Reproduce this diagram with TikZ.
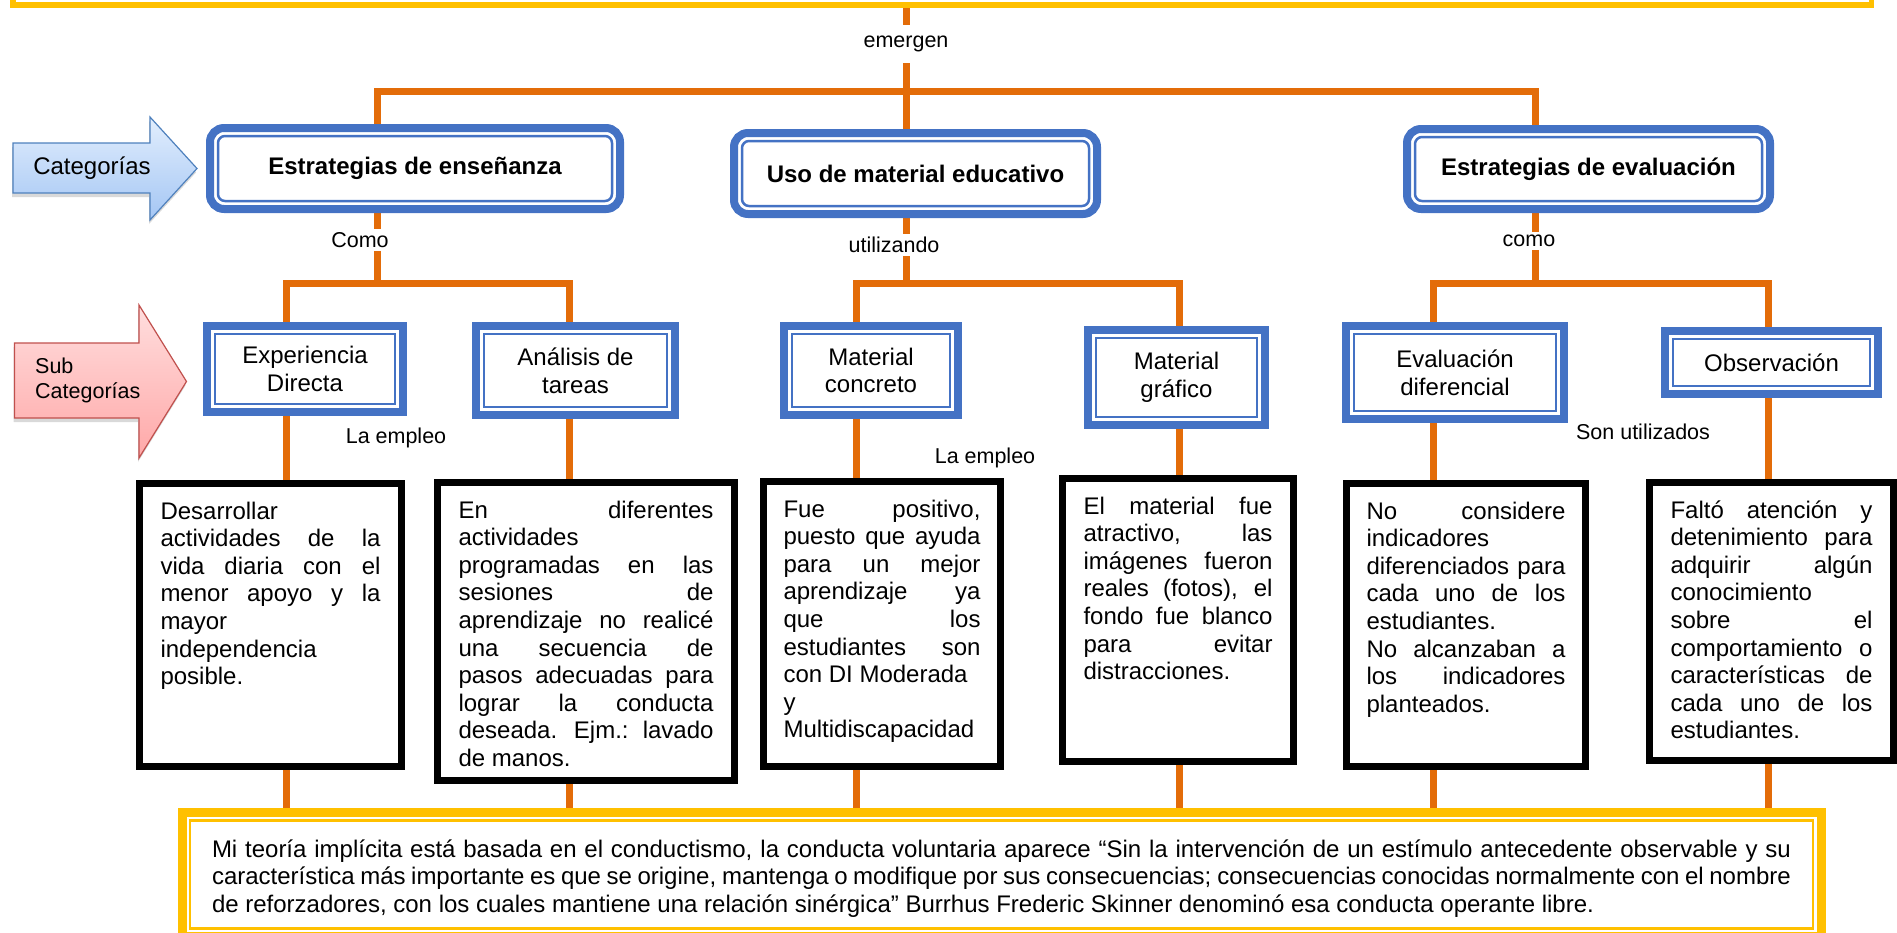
\documentclass[tikz,border=0pt]{standalone}
\usepackage{fontspec}
\setmainfont{Liberation Sans}
\usetikzlibrary{positioning,backgrounds,shadows}

\definecolor{azul}{HTML}{4472C4}
\definecolor{naranja}{HTML}{E36C09}
\definecolor{amarillo}{HTML}{FFC000}
\definecolor{flechaazul}{HTML}{4F81BD}
\definecolor{flecharoja}{HTML}{C0504D}
\definecolor{celeste1}{HTML}{E2EEFD}
\definecolor{celeste2}{HTML}{A4C6F4}
\definecolor{rosa1}{HTML}{FFDEDE}
\definecolor{rosa2}{HTML}{FFA8A8}

\setlength{\parindent}{0pt}
\tolerance=10000
\hbadness=10000
\hyphenpenalty=10000
\exhyphenpenalty=10000

\newcommand{\cuerpo}{\fontsize{24}{27.6}\selectfont}
\newcommand{\etiq}{\fontsize{21.5}{25}\selectfont}

\tikzset{sangria/.store in=\sangria, sangria=8pt}

\begin{document}
\begin{tikzpicture}[x=1pt, y=-1pt,
    conn/.style={draw=naranja, line width=7pt},
    cat/.style={rectangle, draw=azul, line width=8pt, rounded corners=14pt, fill=white, inner sep=0pt,
        align=center, font=\bfseries\cuerpo,
        path picture={\draw[azul, line width=2.5pt, rounded corners=7pt]
            ([shift={(\sangria,\sangria)}]path picture bounding box.south west) rectangle
            ([shift={(-\sangria,-\sangria)}]path picture bounding box.north east);}},
    sub/.style={rectangle, draw=azul, line width=8pt, fill=white, inner sep=0pt, align=center, font=\cuerpo,
        path picture={\draw[azul, line width=2.5pt]
            ([shift={(\sangria,\sangria)}]path picture bounding box.south west) rectangle
            ([shift={(-\sangria,-\sangria)}]path picture bounding box.north east);}},
    marco/.style={rectangle, draw=amarillo, line width=9pt, fill=white, inner sep=0pt,
        path picture={\draw[amarillo, line width=2.5pt]
            ([shift={(\sangria,\sangria)}]path picture bounding box.south west) rectangle
            ([shift={(-\sangria,-\sangria)}]path picture bounding box.north east);}},
    texto/.style={rectangle, draw=black, line width=7pt, fill=white, anchor=north, inner xsep=21pt,
        inner ysep=0pt, text height=36pt, align=justify, font=\cuerpo},
    etiqueta/.style={inner sep=3pt, font=\etiq},
    flecha/.style={line width=1.2pt, drop shadow={shadow xshift=-1pt, shadow yshift=-4pt, opacity=.3}}
]
    \useasboundingbox (0,0) rectangle (1897,932);

    % Marco superior (solo se ve su borde inferior)
    \node[marco, line width=5.5pt, sangria=6.35pt, minimum width=1858.5pt, minimum height=120pt, anchor=south] (marcosup) at (942,7.85) {};

    % Flechas de la izquierda
    \path[flecha, draw=flechaazul, top color=celeste1, bottom color=celeste2]
        (13,143) -- (150,143) -- (150,117) -- (197,168.5) -- (150,220) -- (150,193) -- (13,193) -- cycle;
    \node[font=\cuerpo] (categorias) at (92,168) {Categorías};
    \path[flecha, draw=flecharoja, top color=rosa1, bottom color=rosa2]
        (14.5,343) -- (139,343) -- (139,305) -- (186.5,381.5) -- (139,458) -- (139,418) -- (14.5,418) -- cycle;
    \node[font=\etiq, align=left, anchor=west, inner sep=0pt] (subcategorias) at (35,380) {Sub\\Categorías};

    % Categorías
    \node[cat, minimum width=410pt, minimum height=81pt] (cat1) at (415,168.5) {Estrategias de enseñanza};
    \node[cat, minimum width=363pt, minimum height=81pt] (cat2) at (915.5,173.5) {Uso de material educativo};
    \node[cat, minimum width=363pt, minimum height=80pt] (cat3) at (1588.5,169) {Estrategias de evaluación};

    % Subcategorías
    \node[sub, minimum width=196pt, minimum height=86pt] (sub11) at (305,369) {Experiencia\\Directa};
    \node[sub, minimum width=199pt, minimum height=89pt] (sub12) at (575.5,370.5) {Análisis de\\tareas};
    \node[sub, minimum width=174pt, minimum height=89pt] (sub21) at (871,370.5) {Material\\concreto};
    \node[sub, minimum width=177pt, minimum height=95pt] (sub22) at (1176.5,377.5) {Material\\gráfico};
    \node[sub, minimum width=218pt, minimum height=93pt] (sub31) at (1455,372.5) {Evaluación\\diferencial};
    \node[sub, minimum width=213pt, minimum height=63pt] (sub32) at (1771.5,362.5) {Observación};

    % Etiquetas de los conectores
    \node[etiqueta, inner ysep=11pt] (emergen) at (906,44) {emergen};
    \node[etiqueta] (como1) at (360,240) {Como};
    \node[etiqueta] (utilizando) at (894,245) {utilizando};
    \node[etiqueta] (como3) at (1529,241) {como};
    \node[etiqueta] (empleo1) at (396,438) {La empleo};
    \node[etiqueta] (empleo2) at (985,458) {La empleo};
    \node[etiqueta] (utilizados) at (1643,432) {Son utilizados};

    % Cuadros de texto
    \node[texto, text width=220pt, text depth=247pt] (t1) at (270.5,479.5) {Desarrollar\\
        actividades de la\linebreak vida diaria con el\linebreak menor apoyo y la\linebreak mayor\\
        independencia\\ posible.};
    \node[texto, text width=255pt, text depth=262pt] (t2) at (586,478.5) {En diferentes\linebreak
        actividades\\ programadas en las\linebreak sesiones de\linebreak aprendizaje no realicé\linebreak
        una secuencia de\linebreak pasos adecuadas para\linebreak lograr la conducta\linebreak
        deseada. Ejm.: lavado\linebreak de manos.};
    \node[texto, inner xsep=20pt, text width=197pt, text depth=249pt] (t3) at (882,477.5) {Fue positivo,\linebreak
        puesto que ayuda\linebreak para un mejor\linebreak aprendizaje ya\linebreak que los\linebreak
        estudiantes son\linebreak con DI Moderada\\ y\\ Multidiscapacidad};
    \node[texto, text width=189pt, text depth=247pt] (t4) at (1178,474.5) {El material fue\linebreak
        atractivo, las\linebreak imágenes fueron\linebreak reales (fotos), el\linebreak
        fondo fue blanco\linebreak para evitar\linebreak distracciones.};
    \node[texto, inner xsep=20pt, text width=199pt, text depth=247pt] (t5) at (1466,479.5) {No considere\linebreak
        indicadores\\ diferenciados para\linebreak cada uno de los\linebreak estudiantes.\\
        No alcanzaban a\linebreak los indicadores\linebreak planteados.};
    \node[texto, text width=202pt, text depth=242pt] (t6) at (1771.5,478.5) {Faltó atención y\linebreak
        detenimiento para\linebreak adquirir algún\linebreak conocimiento\\ sobre el\linebreak
        comportamiento o\linebreak características de\linebreak cada uno de los\linebreak estudiantes.};

    % Marco inferior
    \node[marco, anchor=north, inner xsep=30pt, text width=1579pt, text height=44.6pt, text depth=79.4pt,
        align=justify, font=\cuerpo] (fondo) at (1001.5,808) {Mi teoría implícita está basada en el conductismo, la conducta voluntaria aparece “Sin la intervención de un estímulo antecedente observable y su\linebreak característica más importante es que se origine, mantenga o modifique por sus consecuencias; consecuencias conocidas normalmente con el nombre\linebreak de reforzadores, con los cuales mantiene una relación sinérgica” Burrhus Frederic Skinner denominó esa conducta operante libre.};

    % Conectores
    \begin{scope}[on background layer]
        \coordinate (j1) at (377,91);
        \coordinate (j3) at (1535,91);
        \coordinate (c1) at (377,283);
        \coordinate (c2) at (906,283.5);
        \coordinate (c3) at (1535,283);
        \coordinate (x11) at (286,283);
        \coordinate (x12) at (569,283);
        \coordinate (x21) at (856,283.5);
        \coordinate (x22) at (1179,283.5);
        \coordinate (x31) at (1433,283);
        \coordinate (x32) at (1768,283);

        \draw[conn] (marcosup.south -| emergen) -- (emergen.north);
        \draw[conn] (emergen.south) -- (cat2.north -| emergen);
        \draw[conn] (cat1.north -| j1) -- (j1) -- (j3) -- (cat3.north -| j3);

        \draw[conn] (cat1.south -| c1) -- (como1.north -| c1);
        \draw[conn] (como1.south -| c1) -- (c1);
        \draw[conn] (cat2.south -| c2) -- (utilizando.north -| c2);
        \draw[conn] (utilizando.south -| c2) -- (c2);
        \draw[conn] (cat3.south -| c3) -- (como3.north -| c3);
        \draw[conn] (como3.south -| c3) -- (c3);

        \draw[conn] (sub11.north -| x11) -- (x11) -- (x12) -- (sub12.north -| x12);
        \draw[conn] (sub21.north -| x21) -- (x21) -- (x22) -- (sub22.north -| x22);
        \draw[conn] (sub31.north -| x31) -- (x31) -- (x32) -- (sub32.north -| x32);

        \draw[conn] (sub11.south -| x11) -- (t1.north -| x11);
        \draw[conn] (sub12.south -| x12) -- (t2.north -| x12);
        \draw[conn] (sub21.south -| x21) -- (t3.north -| x21);
        \draw[conn] (sub22.south -| x22) -- (t4.north -| x22);
        \draw[conn] (sub31.south -| x31) -- (t5.north -| x31);
        \draw[conn] (sub32.south -| x32) -- (t6.north -| x32);

        \draw[conn] (t1.south -| x11) -- (fondo.north -| x11);
        \draw[conn] (t2.south -| x12) -- (fondo.north -| x12);
        \draw[conn] (t3.south -| x21) -- (fondo.north -| x21);
        \draw[conn] (t4.south -| x22) -- (fondo.north -| x22);
        \draw[conn] (t5.south -| x31) -- (fondo.north -| x31);
        \draw[conn] (t6.south -| x32) -- (fondo.north -| x32);
    \end{scope}
\end{tikzpicture}
\end{document}
